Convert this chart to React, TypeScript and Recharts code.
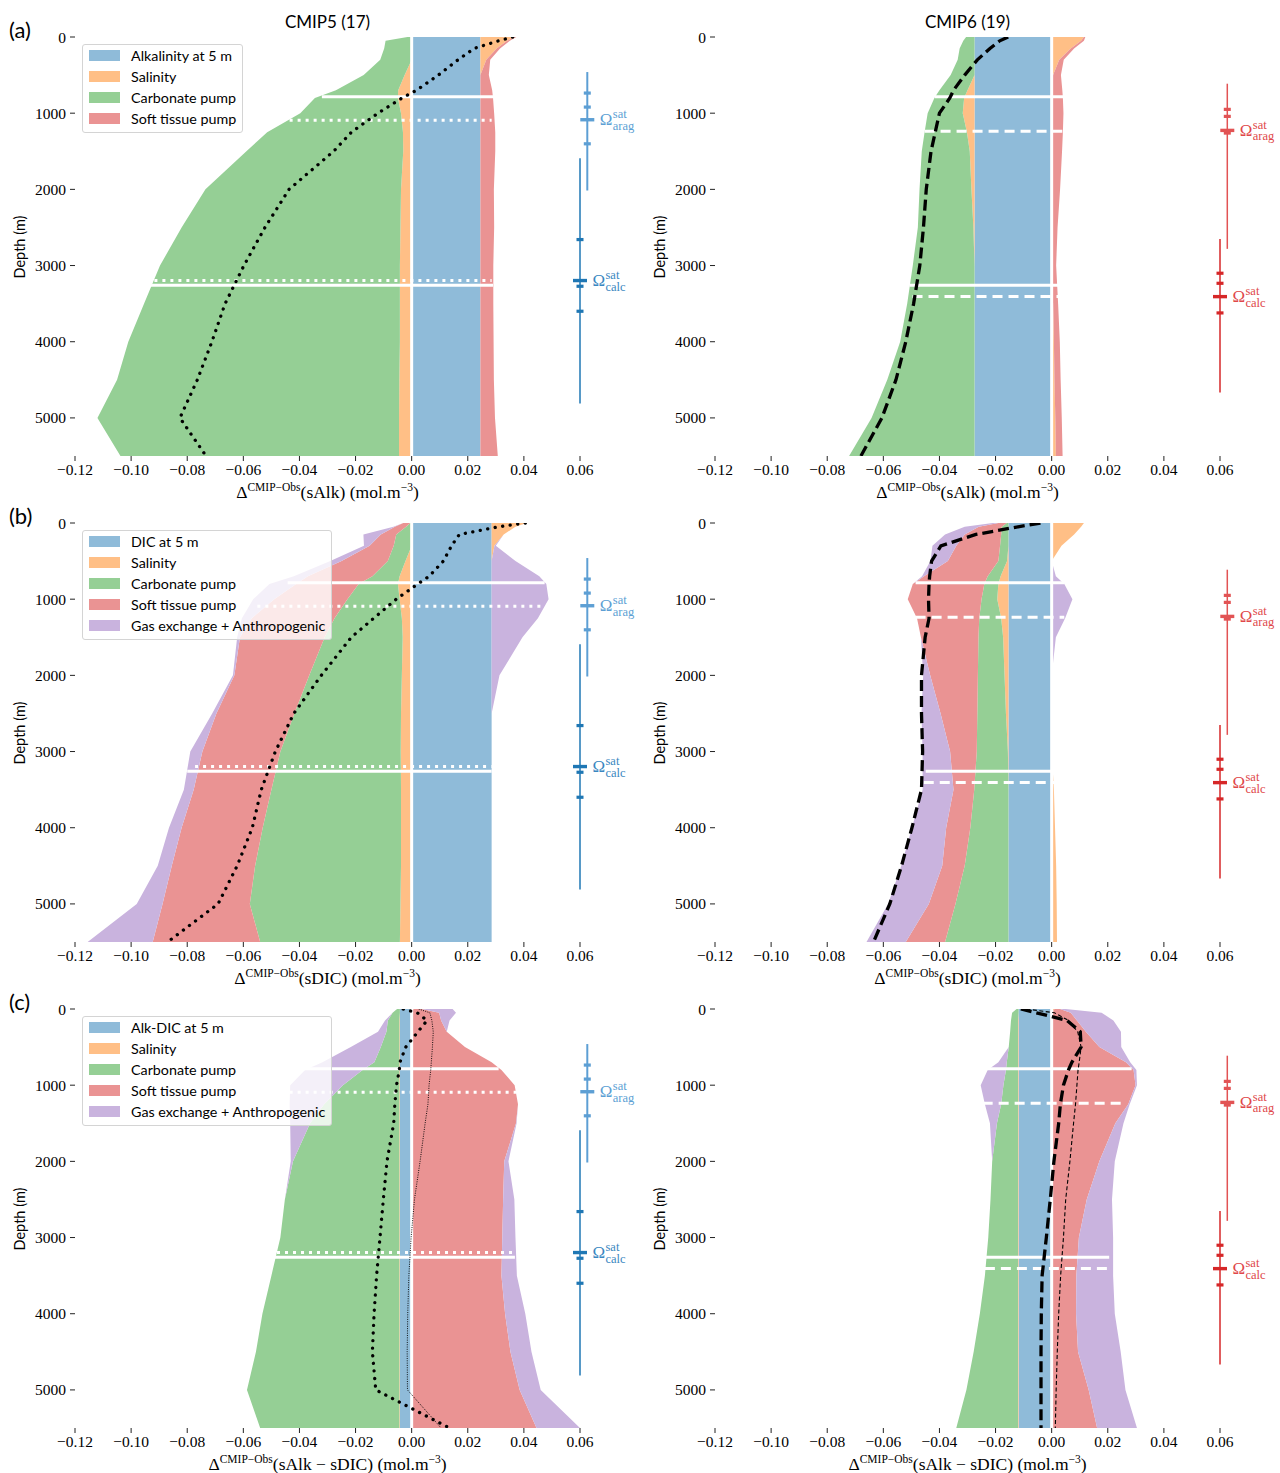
import React from 'react';
import { ComposedChart, Area, Line, XAxis, YAxis, ReferenceLine, ReferenceDot } from 'recharts';

// ---------------- data ----------------
const DEPTHS = [0, 50, 150, 300, 500, 700, 800, 1000, 1250, 1500, 2000, 2500, 3000, 3500, 4000, 4500, 5000, 5500];
const X_TICKS = [-0.12, -0.1, -0.08, -0.06, -0.04, -0.02, 0, 0.02, 0.04, 0.06];
const Y_TICKS = [0, 1000, 2000, 3000, 4000, 5000];

// (a) CMIP5 sAlk
const A5_SURFACE = [0.0245, 0.0245, 0.0245, 0.0245, 0.0245, 0.0245, 0.0245, 0.0245, 0.0245, 0.0245, 0.0245, 0.0245, 0.0245, 0.0245, 0.0245, 0.0245, 0.0245, 0.0245];
const A5_SAL = [0.0123, 0.0095, 0.0058, 0.0021, -0.0025, -0.0048, -0.0049, -0.0038, -0.0031, -0.003, -0.0038, -0.004, -0.0042, -0.0042, -0.0042, -0.0044, -0.0045, -0.0045];
const A5_CARB = [-0.0015, -0.0093, -0.0098, -0.0112, -0.0146, -0.0222, -0.0296, -0.0359, -0.0484, -0.0559, -0.0697, -0.078, -0.0855, -0.0912, -0.0968, -0.1006, -0.1075, -0.0993];
const A5_SOFT = [0.0005, 0.001, 0.0012, 0.0014, 0.003, 0.0042, 0.0045, 0.0049, 0.0053, 0.0053, 0.0048, 0.0049, 0.0046, 0.0046, 0.0047, 0.0048, 0.0052, 0.0062];
const A5_TOTAL = [0.036, 0.031, 0.0223, 0.0165, 0.0095, 0.0017, -0.0034, -0.012, -0.0215, -0.0278, -0.0437, -0.0523, -0.0598, -0.0665, -0.0712, -0.0764, -0.0826, -0.0733];

// (a) CMIP6 sAlk
const A6_SURFACE = [-0.0275, -0.0275, -0.0275, -0.0275, -0.0275, -0.0275, -0.0275, -0.0275, -0.0275, -0.0275, -0.0275, -0.0275, -0.0275, -0.0275, -0.0275, -0.0275, -0.0275, -0.0275];
const A6_SAL = [0.0115, 0.0105, 0.0068, 0.0027, 0.0005, -0.0025, -0.0037, -0.0042, -0.0027, -0.0017, -0.0011, -0.0004, 0.0, 0.0005, 0.0008, 0.001, 0.0013, 0.0015];
const A6_CARB = [-0.003, -0.004, -0.0053, -0.006, -0.0085, -0.01, -0.0106, -0.0125, -0.0151, -0.0171, -0.0185, -0.0198, -0.022, -0.024, -0.0265, -0.0311, -0.0367, -0.0447];
const A6_SOFT = [0.0005, 0.001, 0.0012, 0.0016, 0.0028, 0.0038, 0.004, 0.0042, 0.004, 0.0037, 0.003, 0.0021, 0.0016, 0.0018, 0.0021, 0.0022, 0.0023, 0.0024];
const A6_TOTAL = [-0.0155, -0.0185, -0.022, -0.0265, -0.031, -0.035, -0.0363, -0.04, -0.0415, -0.043, -0.0447, -0.0457, -0.047, -0.0492, -0.052, -0.0555, -0.0605, -0.068];

// (b) CMIP5 sDIC
const B5_SURFACE = [0.0285, 0.0285, 0.0285, 0.0285, 0.0285, 0.0285, 0.0285, 0.0285, 0.0285, 0.0285, 0.0285, 0.0285, 0.0285, 0.0285, 0.0285, 0.0285, 0.0285, 0.0285];
const B5_SAL = [0.0125, 0.0085, 0.0043, 0.001, -0.0022, -0.0043, -0.0049, -0.0043, -0.0035, -0.0032, -0.0035, -0.0038, -0.0039, -0.0038, -0.0038, -0.0038, -0.004, -0.0042];
const B5_CARB = [-0.0005, -0.002, -0.0055, -0.0064, -0.0063, -0.0097, -0.014, -0.0186, -0.024, -0.0278, -0.033, -0.038, -0.0429, -0.0462, -0.0493, -0.052, -0.0537, -0.0498];
const B5_SOFT = [-0.0025, -0.004, -0.0055, -0.0086, -0.0165, -0.023, -0.0223, -0.0261, -0.0295, -0.0302, -0.0267, -0.0278, -0.0278, -0.0277, -0.0289, -0.0297, -0.0311, -0.0383];
const B5_GAS_POS = [0, 0, 0, 0.0005, 0.0085, 0.017, 0.0195, 0.0203, 0.0165, 0.011, 0.0028, 0, 0, 0, 0, 0, 0, 0];
const B5_GAS_NEG = [0, -0.0005, -0.0062, -0.002, -0.004, -0.005, -0.0095, -0.0075, -0.0035, -0.001, -0.0005, -0.0015, -0.0043, -0.0035, -0.0045, -0.005, -0.0092, -0.0232];
const B5_TOTAL = [0.0405, 0.031, 0.017, 0.0142, 0.0113, 0.0062, 0.0022, -0.0055, -0.0135, -0.0215, -0.0322, -0.042, -0.0486, -0.0536, -0.0568, -0.0622, -0.069, -0.087];

// (b) CMIP6 sDIC
const B6_SURFACE = [-0.0154, -0.0154, -0.0154, -0.0154, -0.0154, -0.0154, -0.0154, -0.0154, -0.0154, -0.0154, -0.0154, -0.0154, -0.0154, -0.0154, -0.0154, -0.0154, -0.0154, -0.0154];
const B6_SAL = [0.0115, 0.0105, 0.008, 0.0035, -0.0005, -0.0028, -0.0036, -0.004, -0.0026, -0.0019, -0.0014, -0.0009, -0.0002, 0.0008, 0.0012, 0.0016, 0.0018, 0.0019];
const B6_CARB = [-0.0006, -0.0024, -0.0026, -0.003, -0.0031, -0.0046, -0.005, -0.0056, -0.0078, -0.0088, -0.0095, -0.0102, -0.0111, -0.0122, -0.0136, -0.0156, -0.0189, -0.0226];
const B6_SOFT = [-0.003, -0.0082, -0.013, -0.0156, -0.018, -0.0227, -0.0255, -0.0263, -0.0222, -0.0205, -0.017, -0.0131, -0.0095, -0.0074, -0.0086, -0.008, -0.0095, -0.014];
const B6_GAS_POS = [0, 0, 0, 0, 0, 0.0015, 0.0045, 0.0074, 0.0048, 0.0015, 0, 0, 0, 0, 0, 0, 0, 0];
const B6_GAS_NEG = [-0.002, -0.005, -0.007, -0.0085, -0.0062, -0.0007, 0, 0, 0, 0, -0.0025, -0.0068, -0.0098, -0.011, -0.0122, -0.0146, -0.0145, -0.014];
const B6_TOTAL = [-0.004, -0.012, -0.027, -0.0395, -0.0428, -0.0435, -0.0437, -0.0439, -0.0437, -0.0451, -0.0464, -0.0464, -0.046, -0.0464, -0.0498, -0.0535, -0.0577, -0.0635];

// (c) CMIP5 sAlk - sDIC
const C5_SURFACE = [-0.0042, -0.0042, -0.0042, -0.0042, -0.0042, -0.0042, -0.0042, -0.0042, -0.0042, -0.0042, -0.0042, -0.0042, -0.0042, -0.0042, -0.0042, -0.0042, -0.0042, -0.0042];
const C5_SAL = [0.0006, 0.0003, -0.0002, -0.0002, -0.0002, -0.0002, -0.0002, -0.0002, -0.0002, -0.0002, -0.0002, -0.0002, -0.0002, -0.0002, -0.0002, -0.0002, -0.0002, -0.0002];
const C5_CARB = [-0.001, -0.0026, -0.0041, -0.0046, -0.0066, -0.0089, -0.0131, -0.0201, -0.0268, -0.0318, -0.0379, -0.0408, -0.0424, -0.0456, -0.0488, -0.0511, -0.0543, -0.0496];
const C5_SOFT = [0.003, 0.0095, 0.0105, 0.0125, 0.019, 0.0285, 0.032, 0.0367, 0.0379, 0.0372, 0.033, 0.0326, 0.0323, 0.032, 0.0333, 0.0352, 0.0385, 0.0445];
const C5_GAS_POS = [0.011, 0.006, 0.003, 0, 0, 0, 0, 0, 0, 0.0002, 0.0015, 0.004, 0.0047, 0.0055, 0.0072, 0.0075, 0.0075, 0.0155];
const C5_GAS_NEG = [0, 0, -0.001, -0.003, -0.0107, -0.0185, -0.0205, -0.0188, -0.0123, -0.0071, -0.0008, 0, 0, 0, 0, 0, 0, 0];
const C5_TOTAL = [-0.003, 0.002, 0.0055, 0.0022, -0.0021, -0.0042, -0.0044, -0.0054, -0.006, -0.0064, -0.0088, -0.0101, -0.0113, -0.0125, -0.0134, -0.014, -0.0128, 0.0135];
const C5_THIN = [0.0025, 0.0065, 0.0072, 0.0077, 0.0074, 0.007, 0.0068, 0.0062, 0.0058, 0.0048, 0.003, 0.001, -0.0002, -0.001, -0.0014, -0.0016, -0.0015, 0.0105];

// (c) CMIP6 sAlk - sDIC
const C6_SURFACE = [-0.0118, -0.0118, -0.0118, -0.0118, -0.0118, -0.0118, -0.0118, -0.0118, -0.0118, -0.0118, -0.0118, -0.0118, -0.0118, -0.0118, -0.0118, -0.0118, -0.0118, -0.0118];
const C6_SAL = [0.001, 0.0003, -0.0002, -0.0002, -0.0002, -0.0002, -0.0002, -0.0002, -0.0002, -0.0002, -0.0002, -0.0002, -0.0002, -0.0002, -0.0002, -0.0002, -0.0002, -0.0002];
const C6_CARB = [-0.0007, -0.0023, -0.0025, -0.0028, -0.0033, -0.004, -0.0043, -0.0052, -0.006, -0.0075, -0.0092, -0.0098, -0.0106, -0.0118, -0.0136, -0.0158, -0.0184, -0.022];
const C6_SOFT = [0.002, 0.0065, 0.009, 0.0122, 0.017, 0.0265, 0.0292, 0.0299, 0.0273, 0.0227, 0.017, 0.0125, 0.0097, 0.0088, 0.0087, 0.0094, 0.0132, 0.0162];
const C6_GAS_POS = [0.002, 0.011, 0.013, 0.0125, 0.0078, 0.0015, 0.001, 0.0005, 0.0005, 0.0029, 0.0055, 0.009, 0.0122, 0.0131, 0.0138, 0.0152, 0.0131, 0.0142];
const C6_GAS_NEG = [0, 0, 0, 0, 0, -0.003, -0.0065, -0.0081, -0.0058, -0.0025, 0, 0, 0, 0, 0, 0, 0, 0];
const C6_TOTAL = [-0.011, -0.0055, 0.0055, 0.0102, 0.0105, 0.0072, 0.006, 0.0042, 0.0031, 0.0025, 0.0008, -0.0005, -0.0019, -0.0034, -0.0037, -0.0038, -0.0038, -0.0038];
const C6_THIN = [-0.009, 0.001, 0.006, 0.0093, 0.0105, 0.0098, 0.0094, 0.009, 0.0085, 0.0078, 0.0065, 0.005, 0.0042, 0.0032, 0.0025, 0.002, 0.0016, 0.0013];

// saturation horizons: white lines (depth, x-extent); solid = obs, broken = models
const A5_HLINES = [
  { depth: 785, x1: -0.032, x2: 0.029, model: false },
  { depth: 3258, x1: -0.093, x2: 0.029, model: false },
  { depth: 1092, x1: -0.0435, x2: 0.0285, model: true },
  { depth: 3197, x1: -0.0917, x2: 0.0285, model: true },
];
const A6_HLINES = [
  { depth: 785, x1: -0.0417, x2: 0.0042, model: false },
  { depth: 3258, x1: -0.0507, x2: 0.0023, model: false },
  { depth: 1238, x1: -0.0453, x2: 0.0038, model: true },
  { depth: 3405, x1: -0.0496, x2: 0.0023, model: true },
];
const B5_HLINES = [
  { depth: 785, x1: -0.0442, x2: 0.0474, model: false },
  { depth: 3258, x1: -0.08, x2: 0.0285, model: false },
  { depth: 1092, x1: -0.055, x2: 0.046, model: true },
  { depth: 3197, x1: -0.0772, x2: 0.0285, model: true },
];
const B6_HLINES = [
  { depth: 785, x1: -0.0485, x2: 0.0045, model: false },
  { depth: 3258, x1: -0.0449, x2: 0.0005, model: false },
  { depth: 1238, x1: -0.0485, x2: 0.0045, model: true },
  { depth: 3405, x1: -0.0456, x2: 0.001, model: true },
];
const C5_HLINES = [
  { depth: 785, x1: -0.0442, x2: 0.031, model: false },
  { depth: 3258, x1: -0.049, x2: 0.0368, model: false },
  { depth: 1092, x1: -0.0435, x2: 0.0372, model: true },
  { depth: 3197, x1: -0.048, x2: 0.0368, model: true },
];
const C6_HLINES = [
  { depth: 785, x1: -0.0246, x2: 0.0285, model: false },
  { depth: 3258, x1: -0.0234, x2: 0.0205, model: false },
  { depth: 1238, x1: -0.0246, x2: 0.0256, model: true },
  { depth: 3405, x1: -0.0238, x2: 0.0205, model: true },
];

// model spread of saturation horizons (depths)
const CMIP5_ARAG = { x: 0.0626, lo: 460, hi: 2015, ticks: [736, 920, 1402], main: 1086 };
const CMIP5_CALC = { x: 0.06, lo: 1590, hi: 4810, ticks: [2659, 3272, 3600], main: 3197 };
const CMIP6_ARAG = { x: 0.0626, lo: 613, hi: 2781, ticks: [950, 1042, 1261], main: 1226 };
const CMIP6_CALC = { x: 0.06, lo: 2650, hi: 4665, ticks: [3101, 3233, 3622], main: 3408 };

const LEGEND_A = ['Alkalinity at 5 m', 'Salinity', 'Carbonate pump', 'Soft tissue pump'];
const LEGEND_B = ['DIC at 5 m', 'Salinity', 'Carbonate pump', 'Soft tissue pump', 'Gas exchange + Anthropogenic'];
const LEGEND_C = ['Alk-DIC at 5 m', 'Salinity', 'Carbonate pump', 'Soft tissue pump', 'Gas exchange + Anthropogenic'];

// ---------------- style ----------------
const C_BLUE = '#8fbbd9';
const C_ORANGE = '#ffbf86';
const C_GREEN = '#95cf95';
const C_RED = '#ea9393';
const C_PURPLE = '#c9b3de';
const LEGEND_COLORS = [C_BLUE, C_ORANGE, C_GREEN, C_RED, C_PURPLE];
const SERIF = "'Liberation Serif', 'DejaVu Serif', serif";
const SANS = "Lato, 'Open Sans', sans-serif";

type Series = { key: string; color: string; values: number[] };

function buildRows(series: Series[], total: number[], thin?: number[]) {
  return DEPTHS.map((depth, i) => {
    const row: any = { depth, total: total[i] };
    if (thin) row.thin = thin[i];
    let pos = 0;
    let neg = 0;
    for (const s of series) {
      const v = s.values[i];
      const p = Math.max(v, 0);
      const n = Math.min(v, 0);
      row[s.key + '_p'] = [pos, pos + p];
      row[s.key + '_n'] = [neg + n, neg];
      pos += p;
      neg += n;
    }
    return row;
  });
}

const fmtX = (v: number) => (v < 0 ? '\u2212' : '') + Math.abs(v).toFixed(2);

function Sup({ children }: { children: React.ReactNode }) {
  return <span style={{ fontSize: 11.5, position: 'relative', top: -7 }}>{children}</span>;
}

const TICK_STYLE = { fontFamily: SERIF, fontSize: 15.5, fill: '#000', style: { fontFamily: SERIF } };

function Panel(props: {
  series: Series[];
  total: number[];
  thin?: number[];
  cmip: 5 | 6;
  hlines: { depth: number; x1: number; x2: number; model: boolean }[];
  letter?: string;
  title?: string;
  xvar: string;
  legend?: string[];
}) {
  const { series, total, thin, cmip, hlines, letter, title, xvar, legend } = props;
  const rows = buildRows(series, total, thin);
  const is5 = cmip === 5;
  const horizons = is5
    ? [
        { h: CMIP5_ARAG, line: '#5d9fd4', text: '#5d9fd4', sub: 'arag', lw: 2 },
        { h: CMIP5_CALC, line: '#1f77b4', text: '#3a87c1', sub: 'calc', lw: 1.5 },
      ]
    : [
        { h: CMIP6_ARAG, line: '#e25354', text: '#e0474a', sub: 'arag', lw: 1.5 },
        { h: CMIP6_CALC, line: '#d62728', text: '#e0474a', sub: 'calc', lw: 1.5 },
      ];

  return (
    <div style={{ position: 'relative', width: 640, height: 501 }}>
      <ComposedChart
        width={640}
        height={501}
        layout="vertical"
        data={rows}
        margin={{ top: 37, right: 60, bottom: 0, left: 0 }}
        style={{ overflow: 'visible' }}
      >
        <XAxis
          type="number"
          domain={[-0.12, 0.06]}
          allowDataOverflow
          ticks={X_TICKS}
          interval={0}
          tickFormatter={fmtX}
          axisLine={false}
          tickLine={{ stroke: '#222' }}
          tickSize={5}
          tickMargin={3}
          height={45}
          tick={TICK_STYLE}
        />
        <YAxis
          type="number"
          dataKey="depth"
          domain={[0, 5500]}
          allowDataOverflow
          ticks={Y_TICKS}
          interval={0}
          axisLine={false}
          tickLine={{ stroke: '#222' }}
          tickSize={5}
          tickMargin={4}
          width={75}
          tick={TICK_STYLE}
        />
        {series.flatMap((s) =>
          ['_p', '_n'].map((suf) => (
            <Area
              key={s.key + suf}
              dataKey={s.key + suf}
              type="linear"
              fill={s.color}
              fillOpacity={1}
              stroke="none"
              dot={false}
              activeDot={false}
              isAnimationActive={false}
            />
          ))
        )}
        <ReferenceLine x={0} stroke="#fff" strokeWidth={3} />
        {hlines.map((h, i) => (
          <ReferenceLine
            key={'h' + i}
            segment={[
              { x: h.x1, y: h.depth },
              { x: h.x2, y: h.depth },
            ]}
            stroke="#fff"
            strokeWidth={3}
            strokeDasharray={h.model ? (is5 ? '3 5' : '10 6') : undefined}
            ifOverflow="visible"
          />
        ))}
        {thin && (
          <Line
            dataKey="thin"
            type="linear"
            stroke="#000"
            strokeWidth={is5 ? 0.9 : 1.1}
            strokeDasharray={is5 ? '1 1.3' : '4 2.5'}
            dot={false}
            activeDot={false}
            isAnimationActive={false}
          />
        )}
        <Line
          dataKey="total"
          type="linear"
          stroke="#000"
          strokeWidth={3.3}
          strokeDasharray={is5 ? '0.1 7.5' : '11 5'}
          strokeLinecap={is5 ? 'round' : 'butt'}
          dot={false}
          activeDot={false}
          isAnimationActive={false}
        />
        {horizons.map((o, k) => (
          <ReferenceLine
            key={'v' + k}
            segment={[
              { x: o.h.x, y: o.h.lo },
              { x: o.h.x, y: o.h.hi },
            ]}
            stroke={o.line}
            strokeWidth={o.lw}
            ifOverflow="visible"
          />
        ))}
        {horizons.flatMap((o, k) =>
          o.h.ticks.map((t, j) => (
            <ReferenceDot
              key={'t' + k + '_' + j}
              x={o.h.x}
              y={t}
              ifOverflow="visible"
              shape={(p: any) => <rect x={p.cx - 3.5} y={p.cy - 1.6} width={7} height={3.2} fill={o.line} />}
            />
          ))
        )}
        {horizons.map((o, k) => (
          <ReferenceDot
            key={'m' + k}
            x={o.h.x}
            y={o.h.main}
            ifOverflow="visible"
            shape={(p: any) => (
              <g>
                <rect x={p.cx - 7} y={p.cy - 1.7} width={14} height={3.4} fill={o.line} />
                <text x={p.cx + 12.5} y={p.cy + 5.5} style={{ fontFamily: SERIF }} fontSize={17} fill={o.text}>
                  Ω
                </text>
                <text x={p.cx + 25.5} y={p.cy - 1.5} style={{ fontFamily: SERIF }} fontSize={12.5} fill={o.text}>
                  sat
                </text>
                <text x={p.cx + 25.5} y={p.cy + 10} style={{ fontFamily: SERIF }} fontSize={12.5} fill={o.text}>
                  {o.sub}
                </text>
              </g>
            )}
          />
        ))}
      </ComposedChart>

      {letter && (
        <div style={{ position: 'absolute', left: 9, top: 17, fontFamily: SANS, fontSize: 22, lineHeight: '26px', color: '#000' }}>
          {letter}
        </div>
      )}
      {title && (
        <div
          style={{
            position: 'absolute',
            left: 75,
            width: 505,
            top: 11,
            textAlign: 'center',
            fontFamily: SANS,
            fontSize: 17,
            lineHeight: '22px',
            color: '#000',
          }}
        >
          {title}
        </div>
      )}
      <div
        style={{
          position: 'absolute',
          left: -40,
          top: 236.5,
          width: 120,
          height: 20,
          lineHeight: '20px',
          textAlign: 'center',
          transform: 'rotate(-90deg)',
          fontFamily: SANS,
          fontSize: 14.5,
          color: '#000',
        }}
      >
        Depth (m)
      </div>
      <div
        style={{
          position: 'absolute',
          left: 75,
          width: 505,
          top: 484,
          height: 16,
          textAlign: 'center',
          fontFamily: SERIF,
          fontSize: 17.5,
          lineHeight: '16px',
          color: '#000',
          whiteSpace: 'nowrap',
        }}
      >
        Δ<Sup>CMIP−Obs</Sup>({xvar}) (mol.m<Sup>−3</Sup>)
      </div>
      {legend && (
        <div
          style={{
            position: 'absolute',
            left: 82,
            top: 44,
            padding: '0px 6px 3px 6px',
            background: 'rgba(255,255,255,0.8)',
            border: '1px solid #d4d4d4',
            borderRadius: 3,
            fontFamily: SANS,
            fontSize: 14.3,
            color: '#000',
          }}
        >
          {legend.map((t, i) => (
            <div key={t} style={{ display: 'flex', alignItems: 'center', height: 21 }}>
              <div style={{ width: 31, height: 11, background: LEGEND_COLORS[i], marginRight: 11 }} />
              <span style={{ whiteSpace: 'nowrap' }}>{t}</span>
            </div>
          ))}
        </div>
      )}
    </div>
  );
}

const S = (key: string, color: string, values: number[]): Series => ({ key, color, values });

export default function App() {
  return (
    <div
      style={{
        position: 'absolute',
        left: 0,
        top: 0,
        width: 1280,
        height: 1473,
        overflow: 'hidden',
        background: '#fff',
      }}
    >
      <div style={{ position: 'absolute', left: 0, top: 0 }}>
        <Panel
          cmip={5}
          letter="(a)"
          title="CMIP5 (17)"
          xvar="sAlk"
          legend={LEGEND_A}
          series={[S('surf', C_BLUE, A5_SURFACE), S('sal', C_ORANGE, A5_SAL), S('carb', C_GREEN, A5_CARB), S('soft', C_RED, A5_SOFT)]}
          total={A5_TOTAL}
          hlines={A5_HLINES}
        />
      </div>
      <div style={{ position: 'absolute', left: 640, top: 0 }}>
        <Panel
          cmip={6}
          title="CMIP6 (19)"
          xvar="sAlk"
          series={[S('surf', C_BLUE, A6_SURFACE), S('sal', C_ORANGE, A6_SAL), S('carb', C_GREEN, A6_CARB), S('soft', C_RED, A6_SOFT)]}
          total={A6_TOTAL}
          hlines={A6_HLINES}
        />
      </div>
      <div style={{ position: 'absolute', left: 0, top: 486 }}>
        <Panel
          cmip={5}
          letter="(b)"
          xvar="sDIC"
          legend={LEGEND_B}
          series={[
            S('surf', C_BLUE, B5_SURFACE),
            S('sal', C_ORANGE, B5_SAL),
            S('carb', C_GREEN, B5_CARB),
            S('soft', C_RED, B5_SOFT),
            S('gasp', C_PURPLE, B5_GAS_POS),
            S('gasn', C_PURPLE, B5_GAS_NEG),
          ]}
          total={B5_TOTAL}
          hlines={B5_HLINES}
        />
      </div>
      <div style={{ position: 'absolute', left: 640, top: 486 }}>
        <Panel
          cmip={6}
          xvar="sDIC"
          series={[
            S('surf', C_BLUE, B6_SURFACE),
            S('sal', C_ORANGE, B6_SAL),
            S('carb', C_GREEN, B6_CARB),
            S('soft', C_RED, B6_SOFT),
            S('gasp', C_PURPLE, B6_GAS_POS),
            S('gasn', C_PURPLE, B6_GAS_NEG),
          ]}
          total={B6_TOTAL}
          hlines={B6_HLINES}
        />
      </div>
      <div style={{ position: 'absolute', left: 0, top: 972 }}>
        <Panel
          cmip={5}
          letter="(c)"
          xvar="sAlk − sDIC"
          legend={LEGEND_C}
          series={[
            S('surf', C_BLUE, C5_SURFACE),
            S('sal', C_ORANGE, C5_SAL),
            S('carb', C_GREEN, C5_CARB),
            S('soft', C_RED, C5_SOFT),
            S('gasp', C_PURPLE, C5_GAS_POS),
            S('gasn', C_PURPLE, C5_GAS_NEG),
          ]}
          total={C5_TOTAL}
          thin={C5_THIN}
          hlines={C5_HLINES}
        />
      </div>
      <div style={{ position: 'absolute', left: 640, top: 972 }}>
        <Panel
          cmip={6}
          xvar="sAlk − sDIC"
          series={[
            S('surf', C_BLUE, C6_SURFACE),
            S('sal', C_ORANGE, C6_SAL),
            S('carb', C_GREEN, C6_CARB),
            S('soft', C_RED, C6_SOFT),
            S('gasp', C_PURPLE, C6_GAS_POS),
            S('gasn', C_PURPLE, C6_GAS_NEG),
          ]}
          total={C6_TOTAL}
          thin={C6_THIN}
          hlines={C6_HLINES}
        />
      </div>
    </div>
  );
}
